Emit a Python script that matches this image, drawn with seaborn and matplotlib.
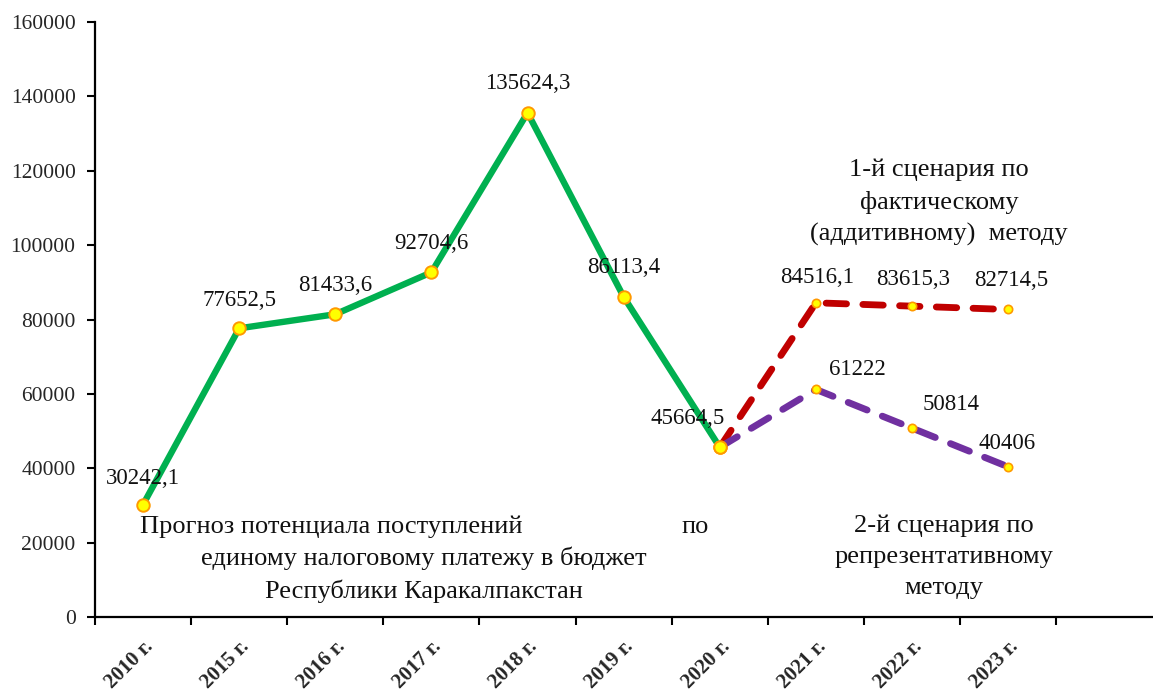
import matplotlib
matplotlib.use("Agg")
import matplotlib.pyplot as plt
import matplotlib.transforms as mtransforms
import numpy as np
import pandas as pd
import seaborn as sns

# Categories and series values
years = ["2010 г.", "2015 г.", "2016 г.", "2017 г.", "2018 г.", "2019 г.",
         "2020 г.", "2021 г.", "2022 г.", "2023 г."]
actual = [30242.1, 77652.5, 81433.6, 92704.6, 135624.3, 86113.4, 45664.5]
additive = [45664.5, 84516.1, 83615.3, 82714.5]       # scenario 1, 2020-2023
representative = [45664.5, 61222, 50814, 40406]      # scenario 2, 2020-2023
y_ticks = [0, 20000, 40000, 60000, 80000, 100000, 120000, 140000, 160000]

# Label offsets in points (dx, dy) for the value annotations
actual_offsets = [(0, 19), (0, 20), (0, 21), (0, 21), (0, 21), (0, 21), (-23, 21)]
additive_offsets = [None, (1, 18), (1, 19), (2, 21)]
repr_offsets = [None, (30, 14), (28, 17), (-1, 17)]

sns.set_theme(style="white")
plt.rcParams["font.family"] = ["Liberation Serif", "DejaVu Serif"]

GREEN = "#00B050"
RED = "#C00000"
PURPLE = "#7030A0"
FACE = "#FFFF00"
EDGE = "#FF9900"

fig = plt.figure(figsize=(11.53, 6.91), dpi=100)
ax = fig.add_axes([0.0824, 0.107, 0.917, 0.861])

pos = np.arange(len(years))
df_act = pd.DataFrame({"x": pos[:len(actual)], "y": actual})
df_add = pd.DataFrame({"x": pos[len(actual) - 1:], "y": additive})
df_rep = pd.DataFrame({"x": pos[len(actual) - 1:], "y": representative})

sns.lineplot(data=df_act, x="x", y="y", ax=ax, color=GREEN, linewidth=4.6,
             marker="o", markersize=9, markerfacecolor=FACE,
             markeredgecolor=EDGE, markeredgewidth=1.4, zorder=3)
sns.lineplot(data=df_add, x="x", y="y", ax=ax, color=RED, linewidth=4.9,
             linestyle=(0, (3.0, 2.4)), dash_capstyle="round",
             marker="o", markersize=6, markerfacecolor=FACE,
             markeredgecolor=EDGE, markeredgewidth=1.2, zorder=4)
sns.lineplot(data=df_rep, x="x", y="y", ax=ax, color=PURPLE, linewidth=4.9,
             linestyle=(0, (3.0, 2.4)), dash_capstyle="round",
             marker="o", markersize=6, markerfacecolor=FACE,
             markeredgecolor=EDGE, markeredgewidth=1.2, zorder=5)
# keep the 2020 junction marker on top
ax.plot(pos[len(actual) - 1], actual[-1], "o", markersize=9,
        markerfacecolor=FACE, markeredgecolor=EDGE, markeredgewidth=1.4,
        zorder=6)


def fmt(v):
    return str(v).replace(".", ",")


def annotate(xs, vals, offs):
    for x, v, o in zip(xs, vals, offs):
        if o is None:
            continue
        ax.annotate(fmt(v), (x, v), xytext=o, textcoords="offset points",
                    ha="center", va="center", fontsize=16.5, color="#111111",
                    zorder=7)


annotate(df_act["x"], actual, actual_offsets)
annotate(df_add["x"], additive, additive_offsets)
annotate(df_rep["x"], representative, repr_offsets)

# Axes and ticks
ax.set_xlim(-0.5, len(years) + 0.5)
ax.set_ylim(0, 160000)
ax.set_yticks(y_ticks)
ax.set_yticklabels([str(t) for t in y_ticks], fontsize=15.5)
ax.set_xticks(np.arange(-0.5, len(years), 1.0))
ax.set_xticklabels([])
ax.set_xticks(pos, minor=True)
ax.set_xticklabels(years, minor=True, rotation=45, ha="right", va="top",
                   rotation_mode="anchor", fontsize=15, fontweight="bold")
shift = mtransforms.ScaledTranslation(-5 / 100, 6 / 100, fig.dpi_scale_trans)
for lbl in ax.get_xticklabels(minor=True):
    lbl.set_transform(lbl.get_transform() + shift)
ax.tick_params(axis="x", which="major", direction="out", length=6, width=1.5,
               bottom=True, color="black")
ax.tick_params(axis="x", which="minor", length=0, pad=14)
ax.tick_params(axis="y", direction="out", length=6, width=1.5, left=True,
               color="black", pad=8)
ax.set_xlabel("")
ax.set_ylabel("")
for side in ["top", "right"]:
    ax.spines[side].set_visible(False)
for side in ["left", "bottom"]:
    ax.spines[side].set_color("black")
    ax.spines[side].set_linewidth(1.6)
ax.grid(False)

# Descriptive captions
CAP = 19
ax.text(-0.03, 24200, "Прогноз потенциала поступлений", fontsize=CAP,
        ha="left", va="center", color="#111111")
ax.text(5.74, 24200, "по", fontsize=CAP, ha="center", va="center",
        color="#111111")
ax.text(2.92, 11400, "единому налоговому платежу в бюджет\nРеспублики Каракалпакстан",
        fontsize=CAP, ha="center", va="center", linespacing=1.52,
        color="#111111")
ax.text(8.28, 111500, "1-й сценария по\nфактическому\n(аддитивному)  методу",
        fontsize=CAP, ha="center", va="center", linespacing=1.52,
        color="#111111")
ax.text(8.33, 16200, "2-й сценария по\nрепрезентативному\nметоду",
        fontsize=CAP, ha="center", va="center", linespacing=1.52,
        color="#111111")

fig.savefig("out.png", dpi=100)
